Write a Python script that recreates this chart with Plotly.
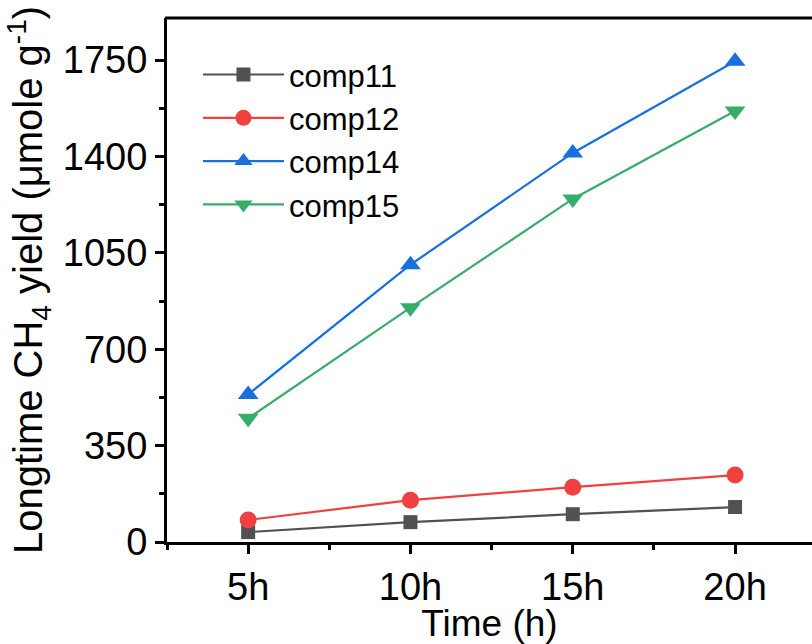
import plotly.graph_objects as go

hours = [5, 10, 15, 20]
tick_labels = ["5h", "10h", "15h", "20h"]
comp11 = [36, 72, 101, 127]
comp12 = [80, 152, 199, 243]
comp14 = [536, 1007, 1413, 1746]
comp15 = [449, 851, 1246, 1565]

series = [
    ("comp11", comp11, "#515151", "square", 14),
    ("comp12", comp12, "#F14040", "circle", 17),
    ("comp14", comp14, "#1A6FDF", "triangle-up", 18),
    ("comp15", comp15, "#37AD6B", "triangle-down", 18),
]

fig = go.Figure()
for name, vals, color, sym, size in series:
    fig.add_trace(go.Scatter(
        x=hours, y=vals, name=name, mode="lines+markers",
        line=dict(color=color, width=2.2),
        marker=dict(symbol=sym, size=size, color=color),
    ))

font = "Liberation Sans, Arial, sans-serif"
fig.update_layout(
    width=812, height=644,
    margin=dict(l=167, r=0, t=18, b=102),
    plot_bgcolor="white", paper_bgcolor="white",
    font=dict(family=font, color="black"),
    showlegend=True,
    legend=dict(x=0.048, y=0.943, xanchor="left", yanchor="top",
                font=dict(size=31, family=font), bgcolor="rgba(0,0,0,0)",
                tracegroupgap=0, itemwidth=81),
    xaxis=dict(
        range=[2.5, 22.37], tickvals=hours, ticktext=tick_labels,
        showline=True, linecolor="black", linewidth=3,
        ticks="outside", ticklen=9, tickwidth=3, tickcolor="black",
        tickfont=dict(size=38), showgrid=False, zeroline=False,
        minor=dict(dtick=2.5, tick0=2.5, ticks="outside", ticklen=5, tickwidth=3, tickcolor="black"),
        title=dict(text="Time (h)", font=dict(size=37), standoff=2),
    ),
    yaxis=dict(
        range=[0, 1903], tickvals=[0, 350, 700, 1050, 1400, 1750],
        showline=True, linecolor="black", linewidth=3,
        ticks="outside", ticklen=9, tickwidth=3, tickcolor="black",
        tickfont=dict(size=38), showgrid=False, zeroline=False,
        minor=dict(dtick=175, tick0=0, ticks="outside", ticklen=5, tickwidth=3, tickcolor="black"),
        title=dict(text="Longtime CH<sub>4</sub> yield (\u03bcmole g<sup>-1</sup>)", font=dict(size=40), standoff=8),
    ),
)
fig.add_shape(type="line", xref="paper", yref="paper", x0=-0.003, x1=1, y0=1, y1=1,
              line=dict(color="black", width=3))

fig.write_html("out.html", config={"displayModeBar": False},
               post_script="document.body.style.margin='0';document.body.style.overflow='hidden';")
